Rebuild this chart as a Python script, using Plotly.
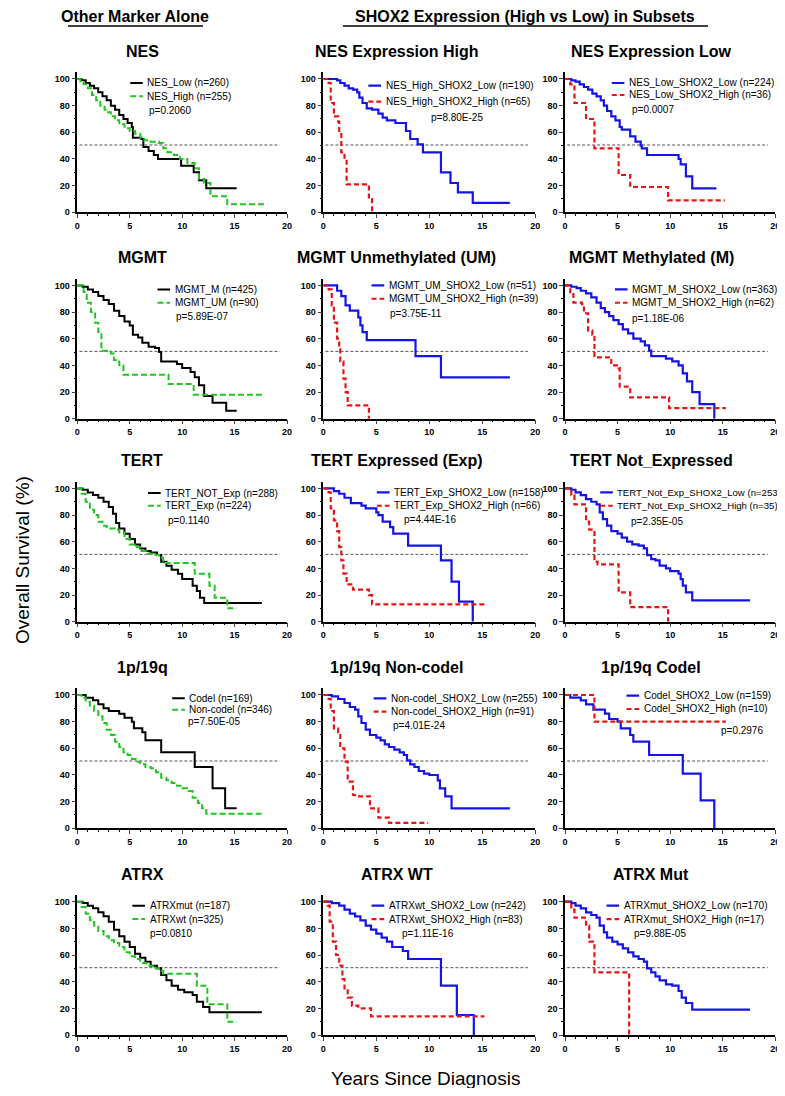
import plotly.graph_objects as go

# ---------------- DATA ----------------
PANEL_TITLES = ["NES", "NES Expression High", "NES Expression Low",
                "MGMT", "MGMT Unmethylated (UM)", "MGMT Methylated (M)",
                "TERT", "TERT Expressed (Exp)", "TERT Not_Expressed",
                "1p/19q", "1p/19q Non-codel", "1p/19q Codel",
                "ATRX", "ATRX WT", "ATRX Mut"]

P_VALUES = ["p=0.2060", "p=8.80E-25", "p=0.0007",
            "p=5.89E-07", "p=3.75E-11", "p=1.18E-06",
            "p=0.1140", "p=4.44E-16", "p=2.35E-05",
            "p=7.50E-05", "p=4.01E-24", "p=0.2976",
            "p=0.0810", "p=1.11E-16", "p=9.88E-05"]

X_TICKS = [0, 5, 10, 15, 20]
Y_TICKS = [0, 20, 40, 60, 80, 100]

# Row 1 - NES
nes_low_t = [0, 0.4, 0.8, 1.2, 1.6, 2.0, 2.4, 2.8, 3.2, 3.6, 4.0, 4.4, 4.8, 5.2, 5.3, 6.1, 6.3, 6.8, 7.3, 7.7, 9.9, 11.1, 11.6, 12.3]
nes_low_s = [100, 99, 97, 95, 93, 90, 87, 84, 80, 77, 73, 70, 67, 64, 56, 55, 49, 46, 43, 40, 35, 30, 24, 18]
nes_low_end = 15.2
nes_high_t = [0, 0.3, 0.6, 1.0, 1.4, 1.8, 2.2, 2.6, 2.8, 3.2, 3.6, 4.0, 4.5, 5.0, 5.5, 6.0, 6.4, 7.0, 7.8, 8.2, 8.6, 9.2, 9.8, 10.5, 11.2, 11.6, 12.1, 12.7, 14.3]
nes_high_s = [100, 98, 96, 93, 88, 84, 80, 77, 75, 72, 69, 66, 63, 61, 59, 56, 54, 53, 52, 48, 45, 43, 40, 37, 33, 25, 22, 12, 6]
nes_high_end = 17.8

nesH_low_t = [0, 1.3, 1.6, 2.0, 2.4, 2.8, 3.2, 3.4, 3.7, 4.1, 4.6, 5.2, 5.6, 6.0, 6.8, 7.8, 8.2, 8.9, 9.4, 11.1, 12.0, 12.7, 14.1]
nesH_low_s = [100, 99, 97, 95, 93, 92, 90, 86, 82, 78, 77, 74, 71, 69, 67, 61, 55, 51, 45, 30, 22, 15, 7]
nesH_low_end = 17.6
nesH_high_t = [0, 0.5, 0.7, 1.0, 1.4, 1.5, 1.7, 2.0, 2.2, 4.3, 4.6]
nesH_high_s = [100, 97, 82, 72, 68, 60, 45, 40, 21, 10, 0]
nesH_high_end = 4.6

nesL_low_t = [0, 0.6, 1.0, 1.4, 1.8, 2.2, 2.6, 3.0, 3.4, 3.7, 4.0, 4.4, 4.8, 5.2, 5.4, 6.2, 6.7, 7.2, 7.3, 7.8, 10.8, 11.0, 11.5, 12.1]
nesL_low_s = [100, 99, 98, 96, 94, 92, 89, 87, 84, 80, 76, 72, 69, 64, 62, 57, 53, 50, 48, 43, 40, 36, 27, 18]
nesL_low_end = 14.4
nesL_high_t = [0, 0.5, 0.9, 2.0, 2.8, 5.1, 6.2, 9.8]
nesL_high_s = [100, 96, 82, 70, 48, 28, 19, 9]
nesL_high_end = 15.2

# Row 2 - MGMT
mgmt_m_t = [0, 0.5, 1.0, 1.5, 2.0, 2.5, 3.0, 3.5, 4.0, 4.5, 5.0, 5.3, 5.8, 6.2, 6.8, 7.4, 7.8, 8.0, 9.5, 10.0, 10.8, 11.2, 11.6, 12.1, 12.9, 14.2]
mgmt_m_s = [100, 99, 97, 95, 92, 89, 86, 81, 77, 73, 70, 63, 61, 57, 54, 53, 50, 43, 41, 38, 35, 31, 25, 17, 12, 6]
mgmt_m_end = 15.2
mgmt_um_t = [0, 0.6, 0.9, 1.3, 1.7, 2.0, 2.3, 3.2, 3.5, 4.0, 4.4, 8.7, 11.1]
mgmt_um_s = [100, 95, 87, 80, 72, 65, 51, 49, 44, 40, 33, 26, 18]
mgmt_um_end = 17.8

mgmtU_low_t = [0, 1.3, 1.7, 2.1, 2.5, 3.3, 3.5, 3.7, 4.1, 8.7, 11.1]
mgmtU_low_s = [100, 96, 92, 85, 81, 76, 70, 65, 59, 47, 31]
mgmtU_low_end = 17.6
mgmtU_high_t = [0, 0.5, 0.8, 1.0, 1.3, 1.5, 1.6, 1.9, 2.1, 2.3, 4.3]
mgmtU_high_s = [100, 97, 85, 72, 60, 52, 43, 30, 20, 10, 0]
mgmtU_high_end = 4.3

mgmtM_low_t = [0, 0.6, 1.1, 1.5, 2.0, 2.5, 3.0, 3.4, 3.8, 4.2, 4.6, 5.1, 5.5, 6.0, 6.5, 7.2, 7.6, 8.0, 8.2, 9.6, 10.2, 10.8, 11.2, 11.6, 12.1, 12.8, 14.2]
mgmtM_low_s = [100, 99, 98, 96, 94, 91, 87, 83, 80, 77, 74, 71, 67, 64, 60, 58, 55, 51, 47, 45, 43, 40, 34, 28, 20, 11, 0]
mgmtM_low_end = 14.2
mgmtM_high_t = [0, 0.5, 0.8, 1.6, 1.8, 2.2, 2.6, 2.8, 4.4, 5.1, 5.2, 6.2, 9.9]
mgmtM_high_s = [100, 95, 87, 86, 79, 66, 63, 46, 40, 38, 24, 16, 8]
mgmtM_high_end = 15.3

# Row 3 - TERT
tert_not_t = [0, 0.5, 1.0, 1.5, 2.0, 2.5, 3.0, 3.4, 3.7, 4.0, 4.5, 5.0, 5.5, 6.0, 6.5, 7.0, 7.6, 8.0, 8.5, 9.0, 9.6, 10.0, 11.0, 11.4, 11.7, 12.1]
tert_not_s = [100, 99, 97, 95, 93, 90, 86, 81, 74, 70, 66, 62, 58, 55, 53, 52, 50, 45, 42, 39, 36, 32, 27, 23, 18, 14]
tert_not_end = 17.6
tert_exp_t = [0, 0.4, 0.8, 1.2, 1.6, 2.0, 2.4, 2.8, 3.6, 4.0, 4.5, 5.0, 5.5, 6.0, 6.6, 7.2, 7.8, 8.2, 11.2, 12.6, 13.1, 14.3]
tert_exp_s = [100, 96, 90, 84, 80, 75, 72, 70, 69, 67, 62, 58, 56, 53, 51, 50, 48, 44, 36, 27, 18, 10]
tert_exp_end = 15.2

tertE_low_t = [0, 1.0, 1.5, 2.0, 2.6, 3.6, 4.0, 5.0, 5.2, 5.6, 6.3, 6.6, 8.0, 11.1, 12.1, 12.8, 14.1]
tertE_low_s = [100, 98, 96, 93, 89, 87, 85, 82, 80, 75, 71, 66, 57, 46, 30, 15, 0]
tertE_low_end = 14.1
tertE_high_t = [0, 0.5, 0.7, 1.0, 1.3, 1.5, 1.7, 1.9, 2.2, 2.8, 4.3, 4.6]
tertE_high_s = [100, 97, 85, 76, 68, 56, 46, 36, 28, 24, 20, 13]
tertE_high_end = 15.2

tertN_low_t = [0, 0.6, 1.0, 1.5, 2.0, 2.5, 3.0, 3.3, 3.6, 4.0, 4.4, 5.0, 5.4, 5.9, 6.4, 7.0, 7.5, 7.8, 8.2, 8.6, 9.0, 9.6, 10.0, 10.8, 11.0, 11.2, 11.5, 12.1]
tertN_low_s = [100, 99, 97, 95, 92, 90, 88, 82, 77, 72, 68, 66, 63, 60, 58, 57, 55, 50, 47, 46, 42, 40, 38, 36, 32, 27, 22, 16]
tertN_low_end = 17.6
tertN_high_t = [0, 0.6, 0.9, 2.0, 2.3, 2.8, 3.1, 5.1, 6.2, 9.8]
tertN_high_s = [100, 95, 88, 75, 69, 45, 43, 22, 11, 0]
tertN_high_end = 9.8

# Row 4 - 1p/19q
codel_t = [0, 0.8, 1.5, 2.0, 2.5, 3.0, 4.0, 4.5, 5.2, 5.4, 6.2, 6.5, 8.0, 11.2, 12.9, 14.1]
codel_s = [100, 98, 96, 93, 90, 88, 86, 83, 80, 75, 72, 66, 57, 46, 30, 15]
codel_end = 15.2
noncodel_t = [0, 0.4, 0.8, 1.2, 1.6, 2.0, 2.4, 2.8, 3.2, 3.6, 4.0, 4.4, 4.8, 5.2, 5.6, 6.0, 6.5, 7.0, 7.5, 8.0, 8.5, 9.0, 9.5, 10.0, 10.6, 11.0, 11.5, 11.9, 12.3]
noncodel_s = [100, 98, 95, 92, 88, 84, 79, 74, 70, 65, 61, 57, 55, 52, 50, 48, 46, 45, 42, 38, 36, 34, 32, 30, 28, 23, 19, 15, 11]
noncodel_end = 17.8

nonc_low_t = [0, 0.8, 1.4, 2.0, 2.5, 3.0, 3.3, 3.6, 4.0, 4.4, 5.0, 5.4, 5.8, 6.2, 6.7, 7.2, 7.6, 7.9, 8.2, 8.6, 9.0, 9.5, 10.0, 10.8, 11.0, 11.5, 12.1]
nonc_low_s = [100, 99, 97, 94, 91, 89, 84, 79, 74, 70, 68, 66, 63, 61, 59, 57, 55, 51, 48, 46, 43, 41, 40, 36, 30, 24, 15]
nonc_low_end = 17.6
nonc_high_t = [0, 0.5, 0.7, 1.0, 1.4, 1.6, 2.0, 2.3, 2.8, 3.0, 4.4, 5.2, 6.2]
nonc_high_s = [100, 97, 88, 75, 70, 60, 50, 35, 25, 24, 15, 8, 4]
nonc_high_end = 9.9

cod_low_t = [0, 0.5, 1.5, 2.0, 2.7, 3.8, 4.2, 5.0, 5.3, 6.2, 6.5, 8.0, 11.2, 12.9, 14.2]
cod_low_s = [100, 98, 96, 93, 89, 86, 82, 80, 75, 70, 65, 55, 41, 21, 0]
cod_low_end = 14.2
cod_high_t = [0, 2.8]
cod_high_s = [100, 80]
cod_high_end = 15.3

# Row 5 - ATRX
atrxmut_t = [0, 0.5, 1.0, 1.5, 2.0, 2.5, 3.0, 3.5, 4.0, 4.5, 5.0, 5.5, 6.0, 6.5, 7.0, 7.6, 8.0, 8.5, 9.0, 9.6, 10.2, 11.0, 11.4, 12.0, 12.6]
atrxmut_s = [100, 99, 97, 95, 92, 89, 85, 79, 74, 70, 66, 61, 58, 55, 52, 50, 45, 41, 37, 34, 32, 30, 25, 21, 17]
atrxmut_end = 17.6
atrxwt_t = [0, 0.4, 0.8, 1.2, 1.6, 2.0, 2.5, 3.0, 3.5, 4.0, 4.5, 5.0, 5.5, 6.0, 6.6, 7.2, 7.8, 8.2, 11.4, 12.4, 14.3]
atrxwt_s = [100, 96, 91, 86, 82, 78, 74, 71, 69, 66, 62, 59, 57, 54, 52, 50, 48, 46, 37, 23, 10]
atrxwt_end = 15.2

atrxW_low_t = [0, 0.8, 1.5, 2.0, 2.5, 3.0, 3.5, 4.0, 4.5, 5.0, 5.5, 6.0, 6.5, 7.5, 8.0, 11.1, 12.6, 14.2]
atrxW_low_s = [100, 99, 97, 94, 91, 89, 86, 82, 79, 76, 73, 70, 66, 63, 57, 37, 15, 0]
atrxW_low_end = 14.2
atrxW_high_t = [0, 0.4, 0.6, 0.9, 1.2, 1.5, 1.8, 2.0, 2.3, 2.7, 3.3, 4.5]
atrxW_high_s = [100, 97, 85, 70, 60, 52, 42, 35, 28, 22, 20, 14]
atrxW_high_end = 15.2

atrxM_low_t = [0, 0.6, 1.0, 1.5, 2.0, 2.5, 3.0, 3.3, 3.7, 4.0, 4.5, 5.0, 5.5, 6.0, 6.5, 7.0, 7.5, 7.8, 8.2, 8.6, 9.0, 9.6, 10.2, 10.8, 11.1, 11.5, 12.1]
atrxM_low_s = [100, 99, 97, 95, 92, 90, 88, 82, 77, 73, 70, 68, 65, 62, 59, 57, 55, 50, 47, 44, 41, 38, 37, 33, 28, 24, 19]
atrxM_low_end = 17.6
atrxM_high_t = [0, 0.6, 0.9, 2.0, 2.3, 2.8, 6.1]
atrxM_high_s = [100, 94, 88, 82, 70, 47, 0]
atrxM_high_end = 6.1

# curves per panel: (times, survival, end time, legend label, kind)
PANEL_CURVES = [
    [(nes_low_t, nes_low_s, nes_low_end, "NES_Low (n=260)", "ref"),
     (nes_high_t, nes_high_s, nes_high_end, "NES_High (n=255)", "alt")],
    [(nesH_low_t, nesH_low_s, nesH_low_end, "NES_High_SHOX2_Low (n=190)", "low"),
     (nesH_high_t, nesH_high_s, nesH_high_end, "NES_High_SHOX2_High (n=65)", "high")],
    [(nesL_low_t, nesL_low_s, nesL_low_end, "NES_Low_SHOX2_Low (n=224)", "low"),
     (nesL_high_t, nesL_high_s, nesL_high_end, "NES_Low_SHOX2_High (n=36)", "high")],
    [(mgmt_m_t, mgmt_m_s, mgmt_m_end, "MGMT_M (n=425)", "ref"),
     (mgmt_um_t, mgmt_um_s, mgmt_um_end, "MGMT_UM (n=90)", "alt")],
    [(mgmtU_low_t, mgmtU_low_s, mgmtU_low_end, "MGMT_UM_SHOX2_Low (n=51)", "low"),
     (mgmtU_high_t, mgmtU_high_s, mgmtU_high_end, "MGMT_UM_SHOX2_High (n=39)", "high")],
    [(mgmtM_low_t, mgmtM_low_s, mgmtM_low_end, "MGMT_M_SHOX2_Low (n=363)", "low"),
     (mgmtM_high_t, mgmtM_high_s, mgmtM_high_end, "MGMT_M_SHOX2_High (n=62)", "high")],
    [(tert_not_t, tert_not_s, tert_not_end, "TERT_NOT_Exp (n=288)", "ref"),
     (tert_exp_t, tert_exp_s, tert_exp_end, "TERT_Exp (n=224)", "alt")],
    [(tertE_low_t, tertE_low_s, tertE_low_end, "TERT_Exp_SHOX2_Low (n=158)", "low"),
     (tertE_high_t, tertE_high_s, tertE_high_end, "TERT_Exp_SHOX2_High (n=66)", "high")],
    [(tertN_low_t, tertN_low_s, tertN_low_end, "TERT_Not_Exp_SHOX2_Low (n=253)", "low"),
     (tertN_high_t, tertN_high_s, tertN_high_end, "TERT_Not_Exp_SHOX2_High (n=35)", "high")],
    [(codel_t, codel_s, codel_end, "Codel (n=169)", "ref"),
     (noncodel_t, noncodel_s, noncodel_end, "Non-codel (n=346)", "alt")],
    [(nonc_low_t, nonc_low_s, nonc_low_end, "Non-codel_SHOX2_Low (n=255)", "low"),
     (nonc_high_t, nonc_high_s, nonc_high_end, "Non-codel_SHOX2_High (n=91)", "high")],
    [(cod_low_t, cod_low_s, cod_low_end, "Codel_SHOX2_Low (n=159)", "low"),
     (cod_high_t, cod_high_s, cod_high_end, "Codel_SHOX2_High (n=10)", "high")],
    [(atrxmut_t, atrxmut_s, atrxmut_end, "ATRXmut (n=187)", "ref"),
     (atrxwt_t, atrxwt_s, atrxwt_end, "ATRXwt (n=325)", "alt")],
    [(atrxW_low_t, atrxW_low_s, atrxW_low_end, "ATRXwt_SHOX2_Low (n=242)", "low"),
     (atrxW_high_t, atrxW_high_s, atrxW_high_end, "ATRXwt_SHOX2_High (n=83)", "high")],
    [(atrxM_low_t, atrxM_low_s, atrxM_low_end, "ATRXmut_SHOX2_Low (n=170)", "low"),
     (atrxM_high_t, atrxM_high_s, atrxM_high_end, "ATRXmut_SHOX2_High (n=17)", "high")],
]

# ---------------- LAYOUT / STYLE ----------------
PAGE_W, PAGE_H = 785, 1096
OFF = 8                          # default page body margin
W, H = PAGE_W - OFF, PAGE_H - 2 * OFF
FONT = "Liberation Sans, Arial, sans-serif"


def fx(p):   # page pixel x -> paper x
    return (p - OFF) / W


def fy(p):   # page pixel y -> paper y
    return 1 - (p - OFF) / H


COL_PX = [(77.3, 287.0), (323.3, 535.3), (565.0, 775.3)]
ROW_ZERO_PX = [212.3, 418.7, 621.7, 828.3, 1035.0]
PX_PER_PCT = 1.333
Y_TOP = 105
TITLE_X_PX = [142, 397, 651]

STYLE = {
    "ref": dict(color="#000000", width=2.0, dash="solid"),
    "alt": dict(color="#22c422", width=2.0, dash="6px,3px"),
    "low": dict(color="#1414e6", width=2.2, dash="solid"),
    "high": dict(color="#e81414", width=2.2, dash="5px,3px"),
}

# legend placement per panel: (text x, y line1, y line2, p x, p y) in data units
LEG_POS = [
    (6.5, 97, 87, 6.6, 76), (5.7, 95, 83, 10.0, 71), (5.9, 97, 88, 6.2, 77),
    (9.1, 97, 87, 9.2, 76.5), (6.0, 100, 90, 6.1, 79), (6.2, 97, 87, 6.2, 75.5),
    (8.2, 96.5, 87, 8.5, 76), (6.5, 97, 87, 7.4, 77), (4.8, 97, 87, 6.1, 75),
    (10.5, 97.5, 89, 10.4, 80), (6.2, 97.5, 87.5, 6.4, 77), (7.3, 99.5, 89.5, 14.6, 73),
    (6.7, 97, 87, 6.7, 76), (6.0, 97, 87, 7.2, 76), (5.4, 97, 87, 6.4, 76),
]
LEG_FONT = [10, 10, 10, 10, 10, 10, 10, 10, 9.6, 10, 10, 10, 10, 10, 10]

fig = go.Figure()
shapes = []
annotations = []
layout_axes = {}

for i, curves in enumerate(PANEL_CURVES):
    r, c = divmod(i, 3)
    n = i + 1
    xname = "x" if n == 1 else f"x{n}"
    yname = "y" if n == 1 else f"y{n}"
    xkey = "xaxis" if n == 1 else f"xaxis{n}"
    ykey = "yaxis" if n == 1 else f"yaxis{n}"
    x0p, x1p = COL_PX[c]
    zero = ROW_ZERO_PX[r]
    top = zero - Y_TOP * PX_PER_PCT

    layout_axes[xkey] = dict(
        domain=[fx(x0p), fx(x1p)], anchor=yname, range=[0, 20], automargin=False,
        showline=True, linecolor="black", linewidth=1.5, mirror=False,
        showgrid=False, zeroline=False, ticks="outside", ticklen=4, tickwidth=1.2,
        tickmode="array", tickvals=X_TICKS, ticktext=[f"<b>{v}</b>" for v in X_TICKS],
        tickfont=dict(family=FONT, size=9, color="black"),
        minor=dict(ticks="outside", ticklen=2, dtick=1, tickwidth=1, tickcolor="black"),
        fixedrange=True,
    )
    layout_axes[ykey] = dict(
        domain=[fy(zero), fy(top)], anchor=xname, range=[0, Y_TOP], automargin=False,
        showline=True, linecolor="black", linewidth=1.5, mirror=False,
        showgrid=False, zeroline=False, ticks="outside", ticklen=4, tickwidth=1.2,
        tickmode="array", tickvals=Y_TICKS, ticktext=[f"<b>{v}</b>" for v in Y_TICKS],
        tickfont=dict(family=FONT, size=9, color="black"),
        minor=dict(ticks="outside", ticklen=2, dtick=10, tickwidth=1, tickcolor="black"),
        fixedrange=True,
    )

    # 50% reference line
    shapes.append(dict(type="line", xref=xname, yref=yname, x0=0.2, x1=19.3, y0=50.5, y1=50.5,
                       line=dict(color="#555555", width=1, dash="3px,2px"), layer="below"))

    for (t, s, end, label, kind) in curves:
        st = STYLE[kind]
        fig.add_trace(go.Scatter(
            x=list(t) + [end], y=list(s) + [s[-1]], mode="lines", line_shape="hv",
            line=dict(color=st["color"], width=st["width"], dash=st["dash"]),
            xaxis=xname, yaxis=yname, showlegend=False, name=label,
        ))

    # manual legend
    tx, y1, y2, px, py = LEG_POS[i]
    for (t, s, end, label, kind), yy in zip(curves, (y1, y2)):
        st = STYLE[kind]
        shapes.append(dict(type="line", xref=xname, yref=yname,
                           x0=tx - 1.45, x1=tx - 0.25, y0=yy, y1=yy,
                           line=dict(color=st["color"], width=st["width"], dash=st["dash"])))
        annotations.append(dict(xref=xname, yref=yname, x=tx, y=yy, text=label, showarrow=False,
                                xanchor="left", yanchor="middle",
                                font=dict(family=FONT, size=LEG_FONT[i], color="black")))
    annotations.append(dict(xref=xname, yref=yname, x=px, y=py, text=P_VALUES[i], showarrow=False,
                            xanchor="left", yanchor="middle",
                            font=dict(family=FONT, size=10, color="black")))

    # panel title
    annotations.append(dict(xref="paper", yref="paper", x=fx(TITLE_X_PX[c]), y=fy(top - 21),
                            text=f"<b>{PANEL_TITLES[i]}</b>", showarrow=False,
                            xanchor="center", yanchor="middle",
                            font=dict(family=FONT, size=16, color="black")))

# headers
HEADERS = [("Other Marker Alone", 135, 68, 203), ("SHOX2 Expression (High vs Low) in Subsets", 525, 343, 708)]
for text, cx, ux0, ux1 in HEADERS:
    annotations.append(dict(xref="paper", yref="paper", x=fx(cx), y=fy(16), text=f"<b>{text}</b>",
                            showarrow=False, xanchor="center", yanchor="middle",
                            font=dict(family=FONT, size=16, color="black")))
    shapes.append(dict(type="line", xref="paper", yref="paper", x0=fx(ux0), x1=fx(ux1),
                       y0=fy(26), y1=fy(26), line=dict(color="black", width=1.3)))

annotations.append(dict(xref="paper", yref="paper", x=fx(22), y=fy(560), text="Overall Survival (%)",
                        showarrow=False, textangle=-90, xanchor="center", yanchor="middle",
                        font=dict(family=FONT, size=19, color="black")))
annotations.append(dict(xref="paper", yref="paper", x=fx(425), y=fy(1078), text="Years Since Diagnosis",
                        showarrow=False, xanchor="center", yanchor="middle",
                        font=dict(family=FONT, size=19, color="black")))

fig.update_layout(
    width=W, height=H, margin=dict(l=0, r=0, t=0, b=0, autoexpand=False),
    paper_bgcolor="white", plot_bgcolor="white",
    showlegend=False, shapes=shapes, annotations=annotations,
    font=dict(family=FONT, color="black"),
    **layout_axes,
)

fig.write_html("out.html")
